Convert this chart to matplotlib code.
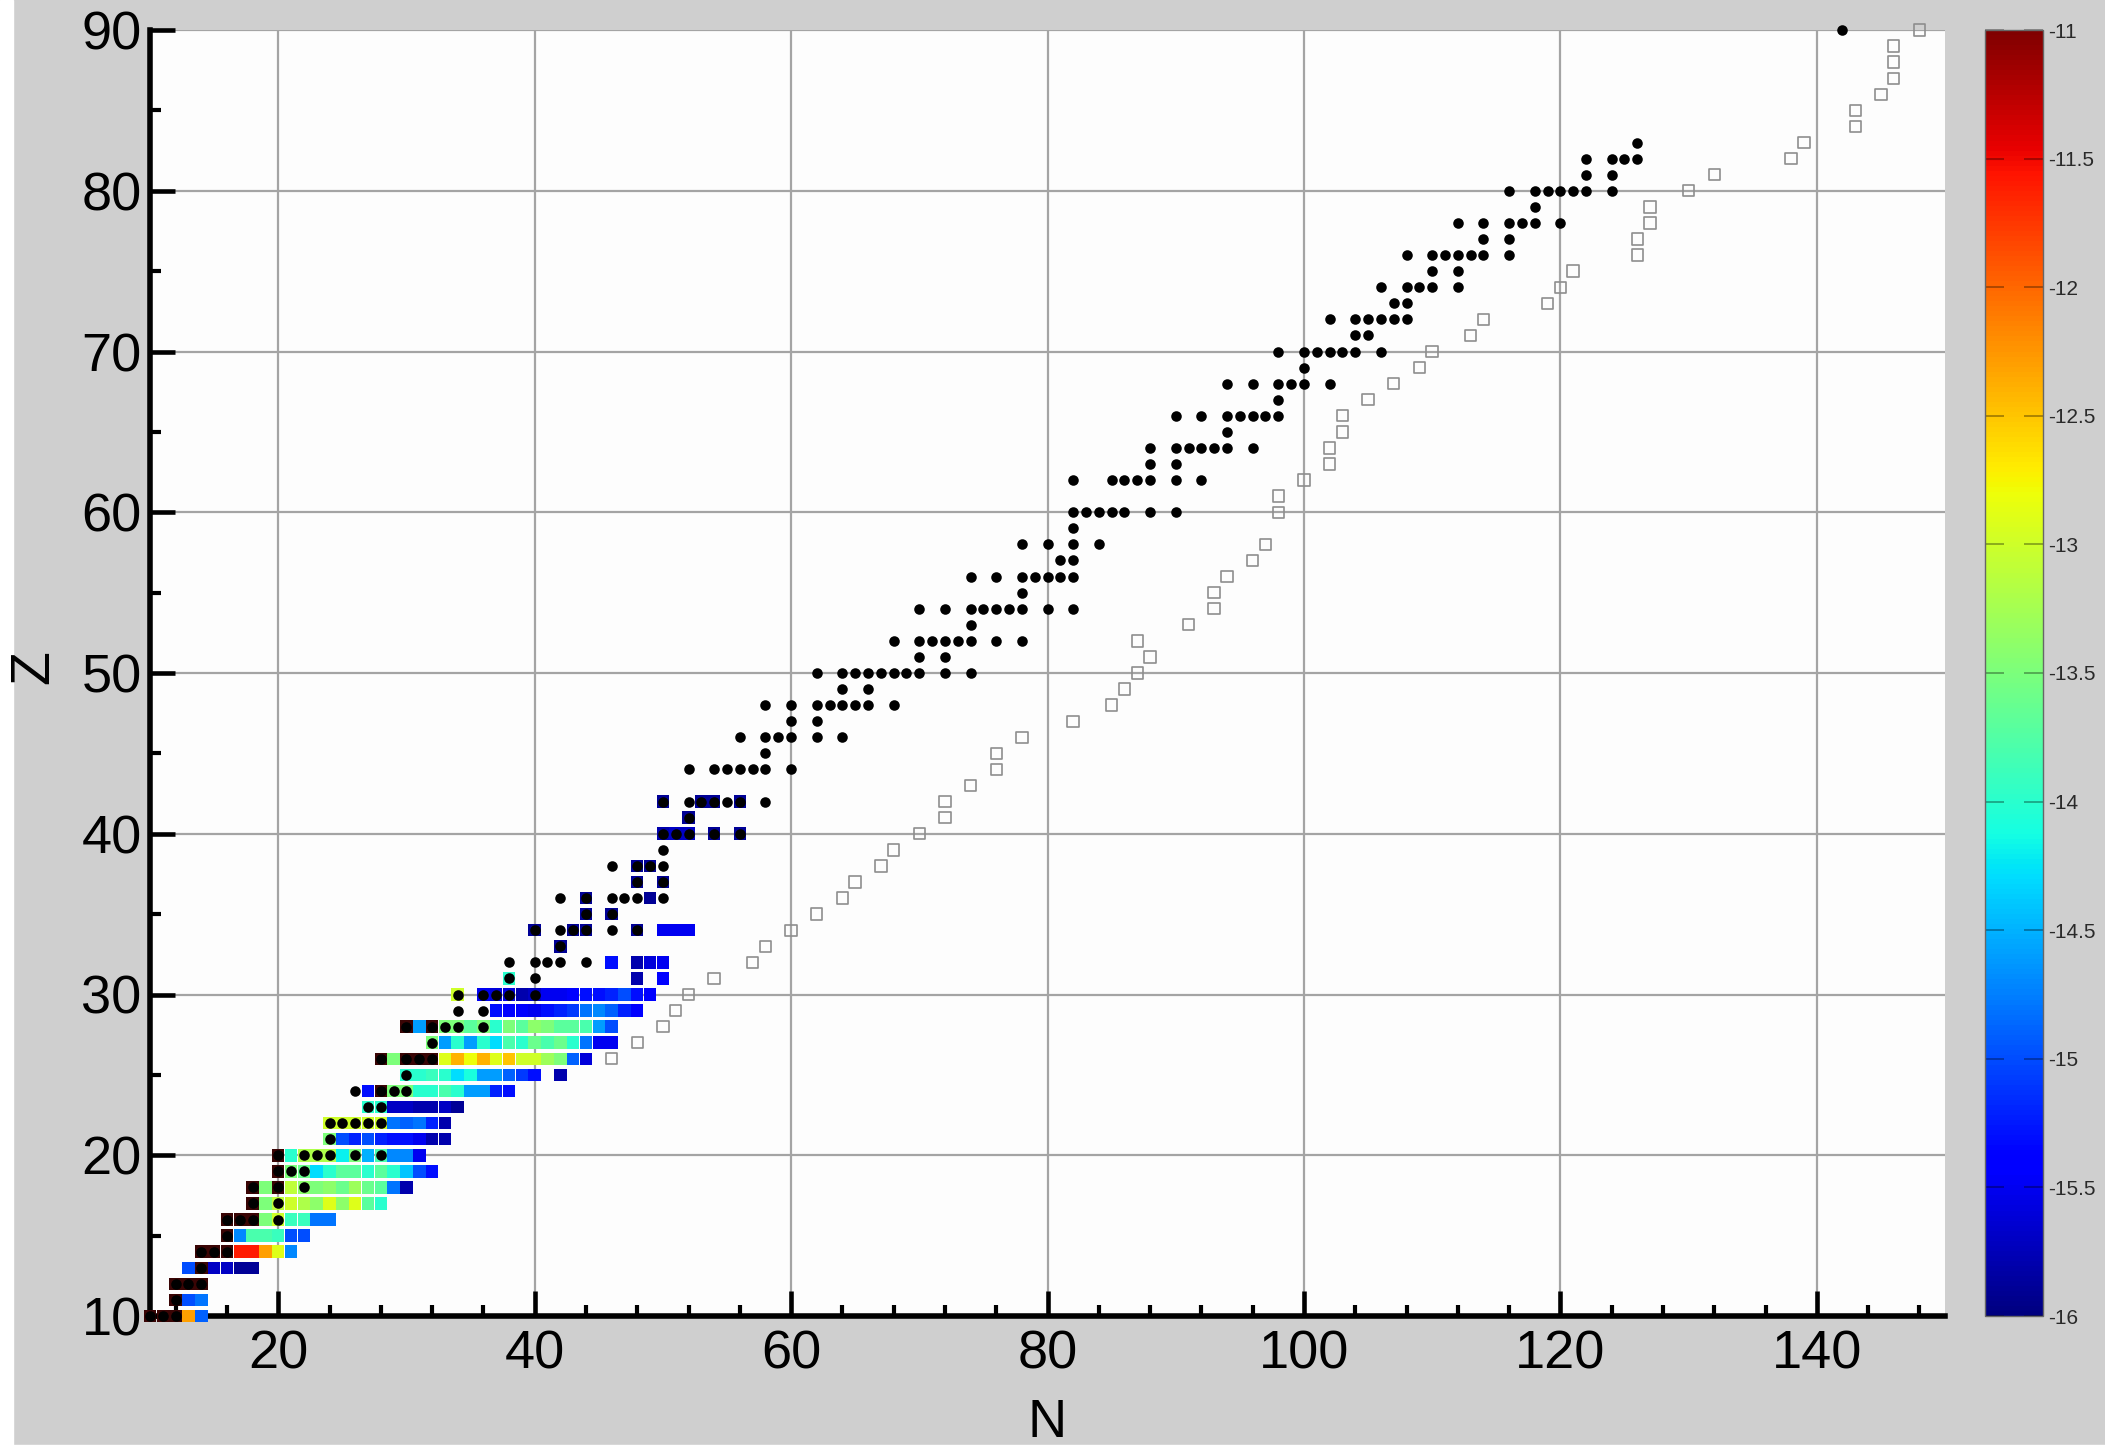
import numpy as np
import matplotlib as mpl
import matplotlib.pyplot as plt
from matplotlib.ticker import MultipleLocator, FuncFormatter
from matplotlib.patches import Rectangle

plt.rcParams['font.family'] = ['Liberation Sans', 'DejaVu Sans']

# log10 abundances, one row per proton number Z, starting at neutron number row_N0
# D = above the top of the colour scale (the near black squares), None = no square
D = -10.5
row_Z = [10, 11, 12, 13, 14, 15, 16, 17, 18, 19, 20, 21, 22, 23, 24, 25, 26, 27, 28,
         29, 30, 31, 32, 33, 34, 35, 36, 37, 38, 40, 41, 42]
row_N0 = [10, 12, 12, 13, 14, 16, 16, 18, 18, 20, 20, 24, 24, 27, 27, 30, 28, 32, 30,
          37, 34, 38, 46, 42, 40, 44, 44, 48, 48, 50, 52, 50]
row_logX = [
    [D, D, D, -12.3, -14.9],
    [D, -15.0, -14.8],
    [D, D, D],
    [-15.0, D, -15.7, -15.7, -15.9, -15.9],
    [D, D, D, -11.6, -11.6, -12.3, -12.9, -14.7],
    [D, -14.7, -13.8, -13.8, -13.9, -15.0, -15.0],
    [D, D, D, -13.5, -13.0, -13.9, -13.9, -14.8, -14.8],
    [D, -13.5, -13.1, -13.0, -13.2, -13.4, -12.9, -13.4, -12.9, -13.7, -14.0],
    [D, -13.5, D, -13.1, -13.4, -13.5, -13.4, -13.6, -13.3, -13.6, -13.7, -14.8, -15.8],
    [D, -13.5, -13.6, -14.3, -14.0, -13.7, -13.7, -14.0, -13.7, -14.0, -14.4, -15.0, -15.3],
    [D, -14.0, -13.2, -13.2, -13.2, -14.2, -13.5, -14.5, -13.8, -14.7, -14.7, -15.5],
    [-13.5, -15.0, -15.2, -15.0, -15.2, -15.3, -15.3, -15.5, -15.8, -15.8],
    [-13.0, -13.0, -13.0, -13.0, -13.0, -14.8, -14.9, -14.8, -15.2, -15.8],
    [-14.0, -14.0, -15.7, -15.7, -15.8, -15.8, -15.7, -15.9],
    [-15.3, D, -13.5, -13.5, -14.0, -14.0, -13.8, -14.0, -14.6, -14.6, -15.2, -15.3],
    [-14.0, -14.0, -13.9, -14.0, -14.3, -14.1, -14.6, -14.6, -14.9, -15.1, -15.3, None, -15.8],
    [D, -13.5, D, D, D, -12.9, -12.4, -12.8, -12.4, -12.9, -12.5, -13.0, -13.0, -13.3,
     -13.5, -14.9, -15.6],
    [-13.5, -14.6, -14.0, -14.6, -14.0, -14.3, -13.8, -14.0, -13.6, -13.8, -13.6, -14.0,
     -14.8, -15.5, -15.5],
    [D, -14.6, D, -13.5, -13.5, -13.7, -13.5, -14.0, -13.5, -13.7, -13.4, -13.5, -13.7,
     -13.7, -13.8, -14.6, -15.0],
    [-15.3, -15.4, -15.4, -15.5, -15.3, -15.2, -15.1, -14.8, -14.7, -14.9, -15.2, -15.4],
    [-13.0, None, -15.5, -15.6, -15.6, -15.8, -15.7, -15.5, -15.5, -15.4, -15.3, -15.3,
     -15.2, -15.0, -15.3, -15.4],
    [-14.0, None, None, None, None, None, None, None, None, None, -15.8, None, -15.4],
    [-15.3, None, -15.8, -15.6, -15.5],
    [-15.9],
    [-15.9, None, None, -15.9, -15.9, None, None, None, -15.9, None, -15.5, -15.5, -15.5],
    [-15.9, None, -15.9],
    [-15.9, None, None, None, None, -15.9],
    [-15.9, None, -15.9],
    [-15.9, -15.9],
    [-15.8, -15.7, -15.7, None, -15.9, None, -15.9],
    [-15.9],
    [-15.9, None, None, -15.9, -15.9, None, -15.9],
]

# black dots: stable nuclei, mass numbers per element
stable_Z = [10, 11, 12, 13, 14, 15, 16, 17, 18, 19, 20, 21, 22, 23, 24, 25, 26, 27, 28, 29,
            30, 31, 32, 33, 34, 35, 36, 37, 38, 39, 40, 41, 42, 44, 45, 46, 47, 48, 49, 50,
            51, 52, 53, 54, 55, 56, 57, 58, 59, 60, 62, 63, 64, 65, 66, 67, 68, 69, 70, 71,
            72, 73, 74, 75, 76, 77, 78, 79, 80, 81, 82, 83, 90]
stable_A = [
    [20, 21, 22], [23], [24, 25, 26], [27], [28, 29, 30], [31], [32, 33, 34, 36], [35, 37],
    [36, 38, 40], [39, 40, 41], [40, 42, 43, 44, 46, 48], [45], [46, 47, 48, 49, 50],
    [50, 51], [50, 52, 53, 54], [55], [54, 56, 57, 58], [59], [58, 60, 61, 62, 64], [63, 65],
    [64, 66, 67, 68, 70], [69, 71], [70, 72, 73, 74, 76], [75], [74, 76, 77, 78, 80, 82],
    [79, 81], [78, 80, 82, 83, 84, 86], [85, 87], [84, 86, 87, 88], [89],
    [90, 91, 92, 94, 96], [93], [92, 94, 95, 96, 97, 98, 100],
    [96, 98, 99, 100, 101, 102, 104], [103], [102, 104, 105, 106, 108, 110], [107, 109],
    [106, 108, 110, 111, 112, 113, 114, 116], [113, 115],
    [112, 114, 115, 116, 117, 118, 119, 120, 122, 124], [121, 123],
    [120, 122, 123, 124, 125, 126, 128, 130], [127],
    [124, 126, 128, 129, 130, 131, 132, 134, 136], [133],
    [130, 132, 134, 135, 136, 137, 138], [138, 139], [136, 138, 140, 142], [141],
    [142, 143, 144, 145, 146, 148, 150], [144, 147, 148, 149, 150, 152, 154], [151, 153],
    [152, 154, 155, 156, 157, 158, 160], [159], [156, 158, 160, 161, 162, 163, 164], [165],
    [162, 164, 166, 167, 168, 170], [169], [168, 170, 171, 172, 173, 174, 176], [175, 176],
    [174, 176, 177, 178, 179, 180], [180, 181], [180, 182, 183, 184, 186], [185, 187],
    [184, 186, 187, 188, 189, 190, 192], [191, 193], [190, 192, 194, 195, 196, 198], [197],
    [196, 198, 199, 200, 201, 202, 204], [203, 205], [204, 206, 207, 208], [209], [232],
]

# grey open squares
path_N = [46, 48, 50, 51, 52, 54, 57, 58, 60, 62, 64, 65, 67, 68, 70, 72, 72, 74, 76, 76,
          78, 82, 85, 86, 87, 88, 87, 91, 93, 93, 94, 96, 97, 98, 98, 100, 102, 102, 103, 103,
          105, 107, 109, 110, 113, 114, 119, 120, 121, 126, 126, 127, 127, 130, 132, 138, 139,
          143, 143, 145, 146, 146, 146, 148]
path_Z = list(range(26, 59)) + list(range(60, 91))

sq_N, sq_Z, sq_v = [], [], []
for z, n0, vals in zip(row_Z, row_N0, row_logX):
    for k, v in enumerate(vals):
        if v is not None:
            sq_N.append(n0 + k)
            sq_Z.append(z)
            sq_v.append(v)

st_N, st_Z = [], []
for z, masses in zip(stable_Z, stable_A):
    for a in masses:
        st_N.append(a - z)
        st_Z.append(z)

W, H = 2105, 1450
fig = plt.figure(figsize=(W / 100, H / 100), dpi=100, facecolor='#cfcfcf')
fig.patches.append(Rectangle((0, 0), 13 / W, 1, transform=fig.transFigure,
                             color='white', zorder=-5))
fig.patches.append(Rectangle((0, 0), 1, 5 / H, transform=fig.transFigure,
                             color='white', zorder=-5))

ax = fig.add_axes([150 / W, 1 - 1316 / H, 1795 / W, 1286 / H])
ax.set_facecolor('#fdfdfd')

cmap = plt.get_cmap('jet').copy()
cmap.set_over('#3a0505')
norm = mpl.colors.Normalize(vmin=-16, vmax=-11)

ax.scatter(sq_N, sq_Z, c=sq_v, cmap=cmap, norm=norm, marker='s', s=9.0 ** 2,
           linewidths=0, zorder=3, clip_on=False)
ax.scatter(st_N, st_Z, c='k', marker='o', s=7.6 ** 2, linewidths=0, zorder=4,
           clip_on=False)
ax.scatter(path_N, path_Z, marker='s', s=8.2 ** 2, facecolors='none',
           edgecolors='#8e8e8e', linewidths=1.2, zorder=4, clip_on=False)

ax.set_xlim(10, 150)
ax.set_ylim(10, 90)
ax.set_xticks(np.arange(20, 141, 20))
ax.set_yticks(np.arange(10, 91, 10))
ax.xaxis.set_minor_locator(MultipleLocator(4))
ax.yaxis.set_minor_locator(MultipleLocator(5))
ax.grid(True, which='major', color='#a4a4a4', lw=1.6)
ax.set_axisbelow(True)
for s in ['top', 'right']:
    ax.spines[s].set_visible(False)
for s in ['left', 'bottom']:
    ax.spines[s].set_linewidth(4)
ax.tick_params(which='major', direction='in', length=18, width=3.3, labelsize=39)
ax.tick_params(which='minor', direction='in', length=8, width=3)
ax.tick_params(axis='x', which='major', pad=10)
ax.tick_params(axis='y', which='major', pad=6)

fig.text(1047 / W, 1 - 1423 / H, 'N', fontsize=39, ha='center', va='center')
fig.text(34 / W, 1 - 667 / H, 'Z', fontsize=40, ha='center', va='center', rotation=90)

cax = fig.add_axes([1985 / W, 1 - 1316 / H, 58 / W, 1286 / H])
cb = fig.colorbar(mpl.cm.ScalarMappable(norm=norm, cmap=cmap), cax=cax,
                  ticks=np.arange(-16, -10.9, 0.5))
cb.ax.yaxis.set_major_formatter(FuncFormatter(lambda v, p: '%g' % v))
cb.ax.tick_params(direction='in', left=True, right=True, length=14, width=1.3,
                  color=(0, 0, 0, 0.35), labelsize=15, pad=4, labelcolor='#2a2a2a')
cb.outline.set_linewidth(1)
cb.outline.set_edgecolor('#666666')

fig.savefig('out.png', dpi=100, facecolor=fig.get_facecolor())
